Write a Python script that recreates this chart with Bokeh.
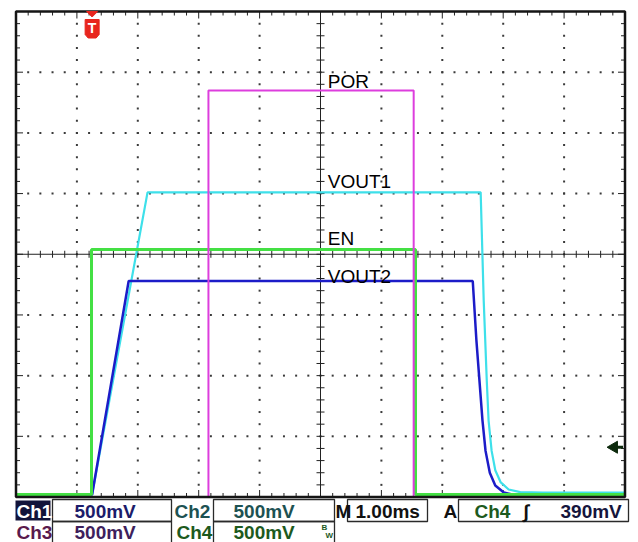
import math
from bokeh.plotting import figure
from bokeh.embed import file_html
from bokeh.resources import INLINE
from bokeh.models import Range1d
from bokeh.core.properties import value

# ---------------- data (time in ms relative to trigger, voltage in V) ----------------
time_per_div = 1.0      # ms / div
volts_per_div = 0.5     # V / div
t_left, t_right = -1.25, 8.75
v_bottom, v_top = 0.0, 4.0

en_t = [-1.25, -0.01, -0.01, 5.31, 5.31, 8.75]
en_v = [0.02, 0.02, 2.04, 2.04, 0.02, 0.02]

por_t = [-1.25, 1.91, 1.91, 5.28, 5.28, 8.75]
por_v = [0.0, 0.0, 3.35, 3.35, 0.0, 0.0]

vout1_t = [-1.25, 0.0, 0.91, 6.38, 6.43, 6.48, 6.51, 6.56, 6.62, 6.71, 6.84, 7.03, 7.40, 8.75]
vout1_v = [0.02, 0.02, 2.51, 2.51, 1.62, 0.96, 0.63, 0.38, 0.22, 0.12, 0.062, 0.04, 0.036, 0.036]

vout2_t = [-1.25, 0.0, 0.60, 6.25, 6.31, 6.41, 6.46, 6.53, 6.62, 6.76, 6.90, 8.75]
vout2_v = [0.02, 0.02, 1.78, 1.78, 1.29, 0.63, 0.38, 0.20, 0.095, 0.037, 0.02, 0.02]

trace_labels = ["POR", "VOUT1", "EN", "VOUT2"]
trace_label_v = [3.42, 2.60, 2.13, 1.82]
trace_label_t = 3.87

trigger_t = 0.0
trigger_level_v = 0.41

status_row1 = ["Ch1", "500mV", "Ch2", "500mV", "M", "1.00ms", "A", "Ch4", "\u222b", "390mV"]
status_row2 = ["Ch3", "500mV", "Ch4", "500mV"]

# ---------------- geometry helpers (image pixels -> data) ----------------
GX0, GX1, GY0, GY1 = 15.5, 624.5, 11.0, 496.5
PXT = (GX1 - GX0) / (t_right - t_left)
PXV = (GY1 - GY0) / (v_top - v_bottom)

def X(px):
    return t_left + (px - GX0) / PXT

def Y(py):
    return v_bottom + (GY1 - py) / PXV

def dx(n):
    return n / PXT

def dy(n):
    return n / PXV

W, H = 638, 542
p = figure(width=W, height=H, x_range=Range1d(X(0), X(W)), y_range=Range1d(Y(H), Y(0)),
           x_axis_type=None, y_axis_type=None, toolbar_location=None, output_backend="svg",
           min_border=0, outline_line_color=None, background_fill_color="white",
           border_fill_color="white")
p.grid.visible = False

# ---------------- graticule ----------------
dot_x, dot_y = [], []
for k in range(1, 10):
    if k == 5:
        continue
    tc = t_left + k * time_per_div
    for j in range(1, 40):
        dot_x.append(tc)
        dot_y.append(v_bottom + j * volts_per_div / 5)
for k in range(1, 8):
    if k == 4:
        continue
    vc = v_bottom + k * volts_per_div
    for j in range(1, 50):
        dot_x.append(t_left + j * time_per_div / 5)
        dot_y.append(vc)
p.scatter(dot_x, dot_y, marker="square", size=2, color="#3a3a3a", line_color=None)

tc = t_left + 5 * time_per_div
vc = v_bottom + 4 * volts_per_div
p.segment([t_left], [vc], [t_right], [vc], line_color="#222222", line_width=1)
p.segment([tc], [v_bottom], [tc], [v_top], line_color="#222222", line_width=1)

xs0, ys0, xs1, ys1 = [], [], [], []
for j in range(1, 50):
    t = t_left + j * time_per_div / 5
    major = (j % 5 == 0)
    xs0 += [t, t, t]
    xs1 += [t, t, t]
    ys0 += [vc - dy(3.5), v_top, v_bottom]
    ys1 += [vc + dy(3.5), v_top - dy(7 if major else 4), v_bottom + dy(7 if major else 4)]
for j in range(1, 40):
    v = v_bottom + j * volts_per_div / 5
    major = (j % 5 == 0)
    ys0 += [v, v, v]
    ys1 += [v, v, v]
    xs0 += [tc - dx(4), t_left, t_right]
    xs1 += [tc + dx(4), t_left + dx(7 if major else 4), t_right - dx(7 if major else 4)]
p.segment(xs0, ys0, xs1, ys1, line_color="#222222", line_width=1)

# ---------------- traces ----------------
p.line(vout1_t, vout1_v, line_color="#3ee0ea", line_width=2.2)
p.line(vout2_t, vout2_v, line_color="#1c1cc8", line_width=2.5)
p.line(en_t, en_v, line_color="#44e044", line_width=3)
p.line(por_t, por_v, line_color="#dd3edd", line_width=2)

# frame
p.quad(left=[t_left], right=[t_right], bottom=[v_bottom], top=[v_top],
       fill_color=None, line_color="#151515", line_width=2.5)

# trace labels
p.text([trace_label_t] * len(trace_labels), trace_label_v, text=trace_labels,
       text_font=value("Liberation Sans"), text_font_size="19px", text_color="#000000",
       text_baseline="middle", text_align="left")

# trigger position marker
tx = trigger_t
p.patch([tx - dx(5.5), tx + dx(5.5), tx], [v_top, v_top, v_top - dy(5.5)], color="#e8261e")
p.patch([tx - dx(7), tx + dx(7), tx + dx(7), tx + dx(4), tx - dx(4), tx - dx(7)],
        [v_top - dy(8), v_top - dy(8), v_top - dy(23), v_top - dy(26.5), v_top - dy(26.5), v_top - dy(23)],
        color="#e8261e")
p.text([tx], [v_top - dy(16.5)], text=["T"], text_font=value("Liberation Sans"),
       text_font_style="bold", text_font_size="14px", text_color="white",
       text_align="center", text_baseline="middle")

# trigger level arrow (right)
p.segment([t_right - dx(10)], [trigger_level_v], [t_right - dx(2)], [trigger_level_v],
          line_color="#0d2a0d", line_width=3)
p.scatter([t_right - dx(11)], [trigger_level_v], marker="triangle", angle=math.pi / 2,
          size=12, color="#0d2a0d")

# ---------------- status bar ----------------
r1, r2 = 510.5, 532
fnt = value("Liberation Sans")

p.quad(left=[X(15)], right=[X(50)], bottom=[Y(520)], top=[Y(500)], fill_color="#12143a", line_color=None)
for (a, b) in [(52, 171), (213, 334), (347, 427), (458, 628)]:
    p.quad(left=[X(a)], right=[X(b)], bottom=[Y(521)], top=[Y(499)], fill_color=None,
           line_color="#2a2a2a", line_width=1.3)
for (a, b) in [(52, 171), (213, 334)]:
    p.quad(left=[X(a)], right=[X(b)], bottom=[Y(550)], top=[Y(521)], fill_color=None,
           line_color="#2a2a2a", line_width=1.3)

row1_x = [16, 74, 174, 233, 335, 355, 443, 474, 523, 560]
row1_c = ["#ffffff", "#1c1c6a", "#1d5252", "#1d5252", "#111111", "#111111", "#111111",
          "#1d5a1d", "#111111", "#15153c"]
p.text([X(v) for v in row1_x], [Y(r1)] * len(row1_x), text=status_row1, text_font=fnt,
       text_font_style="bold", text_font_size="19px", text_color=row1_c,
       text_baseline="middle", text_align="left")

row2_x = [16, 74, 176, 233]
row2_c = ["#5a1a4c", "#3e1f5c", "#1d5a1d", "#1d5a1d"]
p.text([X(v) for v in row2_x], [Y(r2)] * len(row2_x), text=status_row2, text_font=fnt,
       text_font_style="bold", text_font_size="19px", text_color=row2_c,
       text_baseline="middle", text_align="left")
p.text([X(321), X(325)], [Y(527), Y(535)], text=["B", "W"], text_font=fnt,
       text_font_style="bold", text_font_size="8px", text_color="#1d5a1d",
       text_baseline="middle", text_align="left")

open("out.html", "w").write(file_html(p, INLINE))
